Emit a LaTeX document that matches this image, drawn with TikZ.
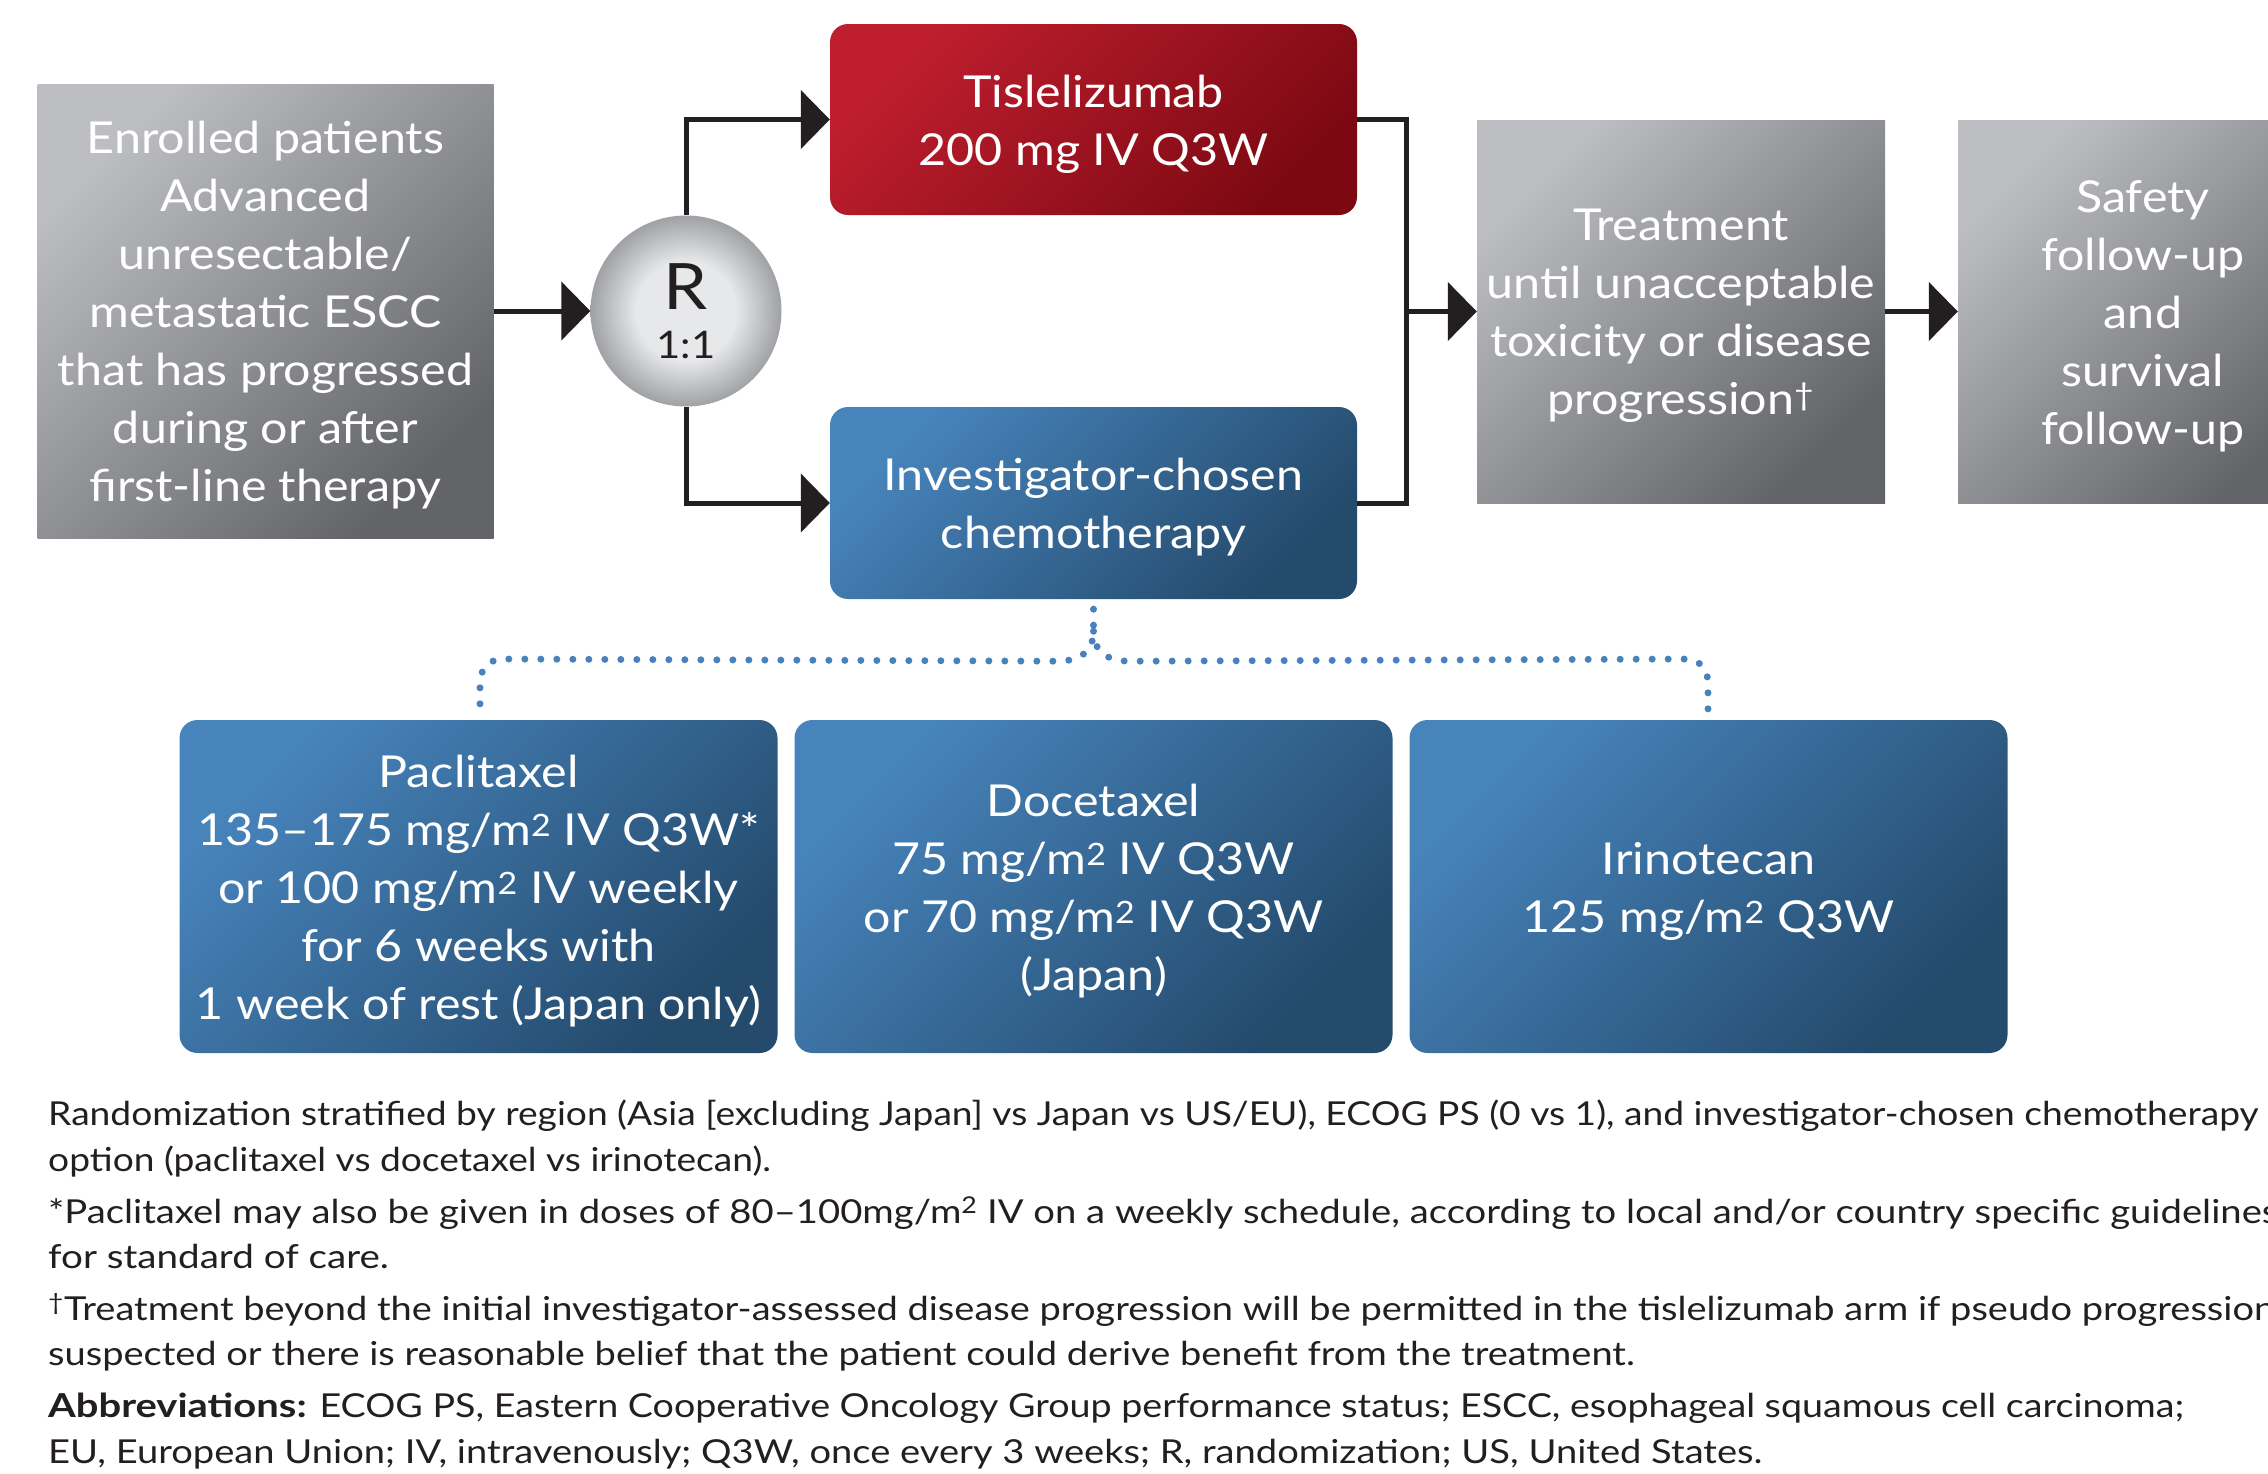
\documentclass[tikz,border=0pt]{standalone}
\usepackage{fontspec}
\usepackage{graphicx}
\setmainfont[FakeStretch=1.10]{Lato}
\newfontfamily\notefam[FakeStretch=1.13, BoldFeatures={FakeStretch=1.2}]{Lato}
\usetikzlibrary{arrows.meta,shadings}
\definecolor{ink}{HTML}{231F20}
\definecolor{grayA}{HTML}{BDBEC1}
\definecolor{grayB}{HTML}{636467}
\definecolor{redA}{HTML}{BF1E2E}
\definecolor{redB}{HTML}{7C0912}
\definecolor{blueA}{HTML}{4784BC}
\definecolor{blueB}{HTML}{244A6C}
\definecolor{dotblue}{HTML}{4A80BD}
\definecolor{rcA}{HTML}{E7E8E9}
\definecolor{rcB}{HTML}{9FA1A4}
\pgfdeclareradialshading{Rball}{\pgfpoint{0bp}{0bp}}{color(0bp)=(rcA); color(13bp)=(rcA); color(25bp)=(rcB); color(50bp)=(rcB)}
\newcommand{\boxfont}{\fontsize{44}{58}\selectfont}
\newcommand{\notefont}{\notefam\fontsize{33}{46}\selectfont}
\newcommand{\nl}[2]{\scalebox{#1}[1]{#2}}
\tikzset{
  box/.style={rectangle, inner sep=0pt},
  boxtext/.style={inner sep=0pt, align=center, text=white, font=\boxfont},
  graybox/.style={box, top color=grayA, bottom color=grayB, shading angle=45},
  redbox/.style={box, rounded corners=18pt, top color=redA, bottom color=redB, shading angle=45},
  bluebox/.style={box, rounded corners=18pt, top color=blueA, bottom color=blueB, shading angle=45},
  conn/.style={draw=ink, line width=5pt, line join=miter},
  arr/.style={conn, -{Triangle[length=29pt,width=58pt]}},
  dotline/.style={draw=dotblue, line width=7pt, line cap=round, dash pattern=on 0pt off 16pt},
  note/.style={anchor=base west, inner sep=0pt, text=ink, font=\notefont},
}
\newcommand{\boxtxt}[2]{\node[boxtext] (#1-t) at ([yshift=-4.5pt]#1.center) {#2};}
\begin{document}
\begin{tikzpicture}[x=1pt,y=-1pt]
\useasboundingbox (0,0) rectangle (2268,1473);
% boxes
\node[graybox, minimum width=456pt, minimum height=454pt] (enr) at (265.5,311) {};
\boxtxt{enr}{Enrolled patients\\Advanced\\unresectable/\\metastatic ESCC\\that has progressed\\during or after\\first-line therapy}
\node[circle, minimum size=191pt, inner sep=0pt, shading=Rball] (R) at (686,311) {};
\node[anchor=base, inner sep=0pt, text=ink, font=\fontsize{64}{64}\selectfont] (Rt) at (686,309) {R};
\node[anchor=base, inner sep=0pt, text=ink, font=\fontsize{38}{38}\selectfont] (Rr) at (686,358) {1:1};
\node[redbox, minimum width=527pt, minimum height=191pt] (tis) at (1093.5,119.5) {};
\boxtxt{tis}{Tislelizumab\\200 mg IV Q3W}
\node[bluebox, minimum width=527pt, minimum height=192pt] (che) at (1093.5,503) {};
\boxtxt{che}{Investigator-chosen\\chemotherapy}
\node[graybox, minimum width=408pt, minimum height=383pt] (trt) at (1681,311.5) {};
\boxtxt{trt}{Treatment\\until unacceptable\\toxicity or disease\\progression\textsuperscript{\textdagger}}
\node[graybox, minimum width=370pt, minimum height=383pt] (saf) at (2143,311.5) {};
\boxtxt{saf}{Safety\\follow-up\\and\\survival\\follow-up}
\node[bluebox, minimum width=598pt, minimum height=333pt] (pac) at (478.5,886.5) {};
\boxtxt{pac}{Paclitaxel\\135–175 mg/m\textsuperscript{2} IV Q3W*\\or 100 mg/m\textsuperscript{2} IV weekly\\for 6 weeks with\\1 week of rest (Japan only)}
\node[bluebox, minimum width=598pt, minimum height=333pt] (doc) at (1093.5,886.5) {};
\boxtxt{doc}{Docetaxel\\75 mg/m\textsuperscript{2} IV Q3W\\or 70 mg/m\textsuperscript{2} IV Q3W\\(Japan)}
\node[bluebox, minimum width=598pt, minimum height=333pt] (iri) at (1708.5,886.5) {};
\boxtxt{iri}{Irinotecan\\125 mg/m\textsuperscript{2} Q3W}
% connectors
\draw[arr] (enr.east) -- (R.west);
\draw[arr] (R.north) |- (tis.west);
\draw[arr] (R.south) |- (che.west);
\coordinate (j) at (1406,311.5);
\draw[conn] (tis.east) -| (j) |- (che.east);
\draw[arr] (j) -- (trt.west);
\draw[arr] (trt.east) -- (saf.west);
% dotted tree
\coordinate (dl) at (480,712);
\coordinate (dr) at (1708,712);
\draw[dotline] (che.south) ++(0,10) -- ++(0,22) .. controls ++(0,22) and ++(20,0) .. ++(-36,30) -- (505,659) .. controls (488,659) and (480,668) .. (480,685) -- (dl);
\draw[dotline] (che.south) ++(0,32) .. controls ++(0,22) and ++(-20,0) .. ++(36,30) -- (1683,659) .. controls (1700,659) and (1708,668) .. (1708,685) -- (dr);
% notes
\node[note] (n1) at (48,1125) {\nl{0.997}{Randomization stratified by region (Asia [excluding Japan] vs Japan vs US/EU), ECOG PS (0 vs 1), and investigator-chosen chemotherapy}};
\node[note] (n2) at (48,1171) {\nl{0.996}{option (paclitaxel vs docetaxel vs irinotecan).}};
\node[note] (n3) at (48,1223) {\nl{1.025}{*Paclitaxel may also be given in doses of 80–100mg/m\textsuperscript{2} IV on a weekly schedule, according to local and/or country specific guidelines}};
\node[note] (n4) at (48,1268) {\nl{1.035}{for standard of care.}};
\node[note] (n5) at (48,1320) {\nl{1.019}{\textsuperscript{\textdagger}Treatment beyond the initial investigator-assessed disease progression will be permitted in the tislelizumab arm if pseudo progression}};
\node[note] (n6) at (48,1365) {\nl{1.019}{suspected or there is reasonable belief that the patient could derive benefit from the treatment.}};
\node[note] (n7) at (48,1417) {\nl{1.009}{\textbf{Abbreviations:} ECOG PS, Eastern Cooperative Oncology Group performance status; ESCC, esophageal squamous cell carcinoma;}};
\node[note] (n8) at (48,1463) {\nl{1.022}{EU, European Union; IV, intravenously; Q3W, once every 3 weeks; R, randomization; US, United States.}};
\end{tikzpicture}
\end{document}
